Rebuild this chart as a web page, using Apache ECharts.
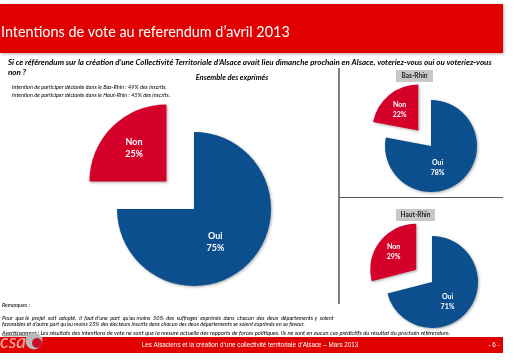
<!DOCTYPE html>
<html><head><meta charset="utf-8">
<script src="https://cdn.jsdelivr.net/npm/echarts@6/dist/echarts.min.js"></script>
<style>html,body{margin:0;padding:0;background:#fff}#c{width:514px;height:361px}</style>
</head><body><div id="c"></div>
<script>
const categories = ['Oui', 'Non'];
const ensemble = [75, 25];
const basRhin = [78, 22];
const hautRhin = [71, 29];
const panelTitles = ['Ensemble des exprimés', 'Bas-Rhin', 'Haut-Rhin'];

const BLUE = '#0b4f8e', RED = '#d4002a', HEAD = '#e10000';
const F = 'Lato, "Open Sans", sans-serif';

function pieSeries(values, center, radius, offset, fs, dxs) {
  return {
    type: 'pie', center: center, radius: radius, startAngle: 90, clockwise: true,
    selectedMode: 'multiple', selectedOffset: offset, silent: true, animation: false,
    label: { show: true, position: 'inside', color: '#fff', fontFamily: F, fontWeight: 'bold',
      fontSize: fs, lineHeight: fs + 3, formatter: p => p.name + '\n' + p.value + '%' },
    labelLine: { show: false },
    labelLayout: p => ({ dx: dxs[p.dataIndex][0], dy: dxs[p.dataIndex][1] }),
    itemStyle: { shadowBlur: 3, shadowColor: 'rgba(0,0,0,0.35)', shadowOffsetX: 1, shadowOffsetY: 1 },
    data: categories.map((c, i) => ({ name: c, value: values[i], selected: i === 1,
      itemStyle: { color: i === 0 ? BLUE : RED } }))
  };
}

function txt(text, x, y, size, opts) {
  return { type: 'text', x: x, y: y, silent: true, style: Object.assign({ text: text,
    font: (opts && opts.font) || ('italic ' + size + 'px ' + F), fill: '#000',
    textVerticalAlign: 'middle' }, opts || {}) };
}

const chart = echarts.init(document.getElementById('c'));
chart.setOption({
  animation: false,
  graphic: [
    { type: 'rect', shape: { x: 0, y: 4, width: 503, height: 49 }, style: { fill: HEAD,
      shadowBlur: 3, shadowColor: 'rgba(0,0,0,0.3)', shadowOffsetX: 1, shadowOffsetY: 1 } },
    txt('Intentions de vote au referendum d\u2019avril 2013', 1, 32, 14.4, { font: '14.4px ' + F, fill: '#fff' }),
    txt('Si ce référendum sur la création d\u2019une Collectivité Territoriale d\u2019Alsace avait lieu dimanche prochain en Alsace, voteriez-vous oui ou voteriez-vous', 8, 62, 8, { font: 'italic bold 8px ' + F }),
    txt('non ?', 8, 72, 8, { font: 'italic bold 8px ' + F }),
    txt(panelTitles[0], 232, 78, 7.5, { font: 'italic bold 7.5px ' + F, textAlign: 'center' }),
    txt('Intention de participer déclarée dans le Bas-Rhin : 49% des inscrits.', 12, 87, 5.6, { font: 'italic 5.6px ' + F }),
    txt('Intention de participer déclarée dans le Haut-Rhin : 45% des inscrits.', 12, 95, 5.6, { font: 'italic 5.6px ' + F }),
    { type: 'line', shape: { x1: 339, y1: 68, x2: 339, y2: 304 }, style: { stroke: '#000', lineWidth: 1 } },
    { type: 'line', shape: { x1: 339, y1: 197.5, x2: 503, y2: 197.5 }, style: { stroke: '#555', lineWidth: 1 } },
    { type: 'rect', shape: { x: 396, y: 70, width: 37, height: 12 }, style: { fill: '#c8c8c8' } },
    txt(panelTitles[1], 414.5, 76, 6.5, { font: 'bold 6.5px ' + F, textAlign: 'center', fill: '#222' }),
    { type: 'rect', shape: { x: 396, y: 209, width: 39, height: 12 }, style: { fill: '#c8c8c8' } },
    txt(panelTitles[2], 415.5, 215, 6.5, { font: 'bold 6.5px ' + F, textAlign: 'center', fill: '#222' }),
    txt('Remarques :', 2, 305, 5.5, { font: 'italic 5.5px ' + F }),
    txt('Pour  que le  projet  soit  adopté,  il  faut d\u2019une  part  qu\u2019au moins  50%  des  suffrages  exprimés  dans  chacun  des  deux  départements y  soient', 2, 318, 5.6, { font: 'italic 5.6px ' + F }),
    txt('favorables et d\u2019autre part qu\u2019au moins 25% des électeurs inscrits dans chacun des deux départements se soient exprimés en sa faveur.', 2, 324, 5.5, { font: 'italic 5.5px ' + F }),
    txt('Avertissement : Les résultats des intentions de vote ne sont que la mesure actuelle des rapports de forces politiques. Ils ne sont en aucun cas prédictifs du résultat du prochain référendum.', 2, 333, 5.85, { font: 'italic 5.85px ' + F }),
    { type: 'line', shape: { x1: 2, y1: 335.8, x2: 40, y2: 335.8 }, style: { stroke: '#000', lineWidth: 0.5 } },
    { type: 'rect', shape: { x: 0, y: 337, width: 503, height: 16 }, style: { fill: HEAD } },
    txt('csa', 0, 342, 19, { font: 'italic 19px ' + F, fill: 'rgba(255,215,215,0.8)' }),
    { type: 'circle', shape: { cx: 34, cy: 341, r: 8.5 }, style: { fill: '#b9b9b9' } },
    { type: 'circle', shape: { cx: 37, cy: 343, r: 5 }, style: { fill: '#c8102e' } },
    txt('Les Alsaciens et la création d\u2019une collectivité territoriale d\u2019Alsace \u2013 Mars 2013', 250, 345, 6.3, { font: '6.3px "Liberation Sans", Arial, sans-serif', fill: '#fff', textAlign: 'center' }),
    txt('- 6 -', 494, 345, 6.3, { font: '6.3px "Liberation Sans", Arial, sans-serif', fill: '#fff', textAlign: 'center' })
  ],
  series: [
    pieSeries(ensemble, [194, 209], 77, 39, 9, [[-8, 4], [-3, -4]]),
    pieSeries(basRhin, [431, 146], 46, 20, 7, [[-10, 2], [-2, -1]]),
    pieSeries(hautRhin, [432, 282], 46, 20, 7, [[-5, 4], [-2, -2]])
  ]
});
</script></body></html>
